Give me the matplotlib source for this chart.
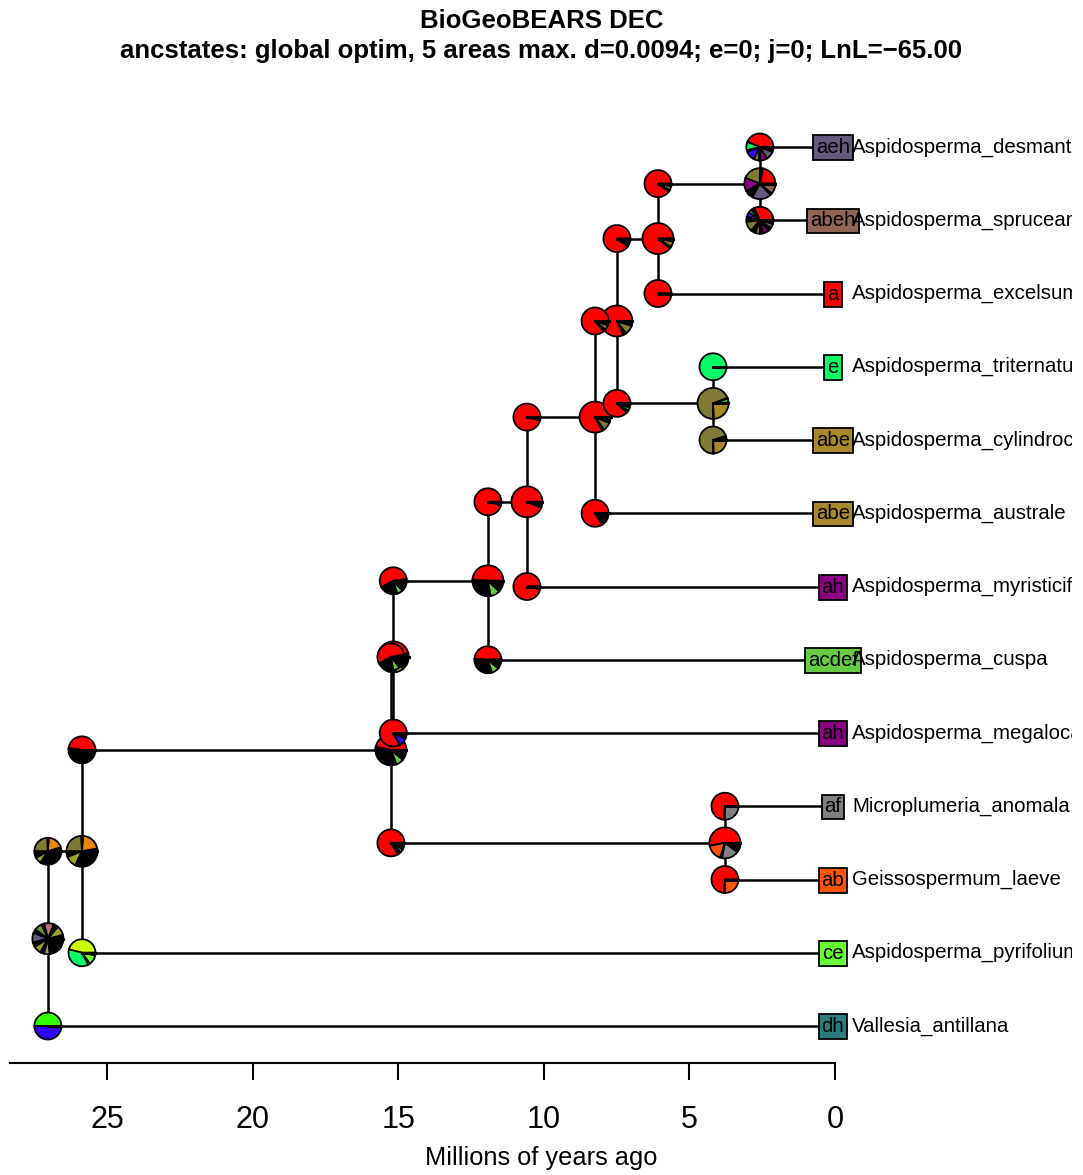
import matplotlib
matplotlib.use('Agg')
import matplotlib.pyplot as plt
from matplotlib.patches import Wedge
from matplotlib import transforms

plt.rcParams['font.family'] = ['Liberation Sans', 'DejaVu Sans']

# tips, top to bottom, with their observed ranges
tips = ['Aspidosperma_desmanthum', 'Aspidosperma_spruceanum', 'Aspidosperma_excelsum',
        'Aspidosperma_triternatum', 'Aspidosperma_cylindrocarpon', 'Aspidosperma_australe',
        'Aspidosperma_myristicifolium', 'Aspidosperma_cuspa', 'Aspidosperma_megalocarpon',
        'Microplumeria_anomala', 'Geissospermum_laeve', 'Aspidosperma_pyrifolium',
        'Vallesia_antillana']
tip_states = ['aeh', 'abeh', 'a', 'e', 'abe', 'abe', 'ah', 'acdef', 'ah', 'af', 'ab', 'ce', 'dh']

# internal nodes: age (Ma) and (upper child, lower child)
node_age = {'A': 27.03, 'B': 25.86, 'C': 15.25, 'D': 15.17, 'E': 3.78, 'F': 11.92,
            'G': 10.58, 'H': 8.24, 'I': 7.49, 'J': 6.08, 'K': 4.19, 'L': 2.58}
children = {'A': ('B', 'Vallesia_antillana'),
            'B': ('C', 'Aspidosperma_pyrifolium'),
            'C': ('D', 'E'),
            'D': ('F', 'Aspidosperma_megalocarpon'),
            'E': ('Microplumeria_anomala', 'Geissospermum_laeve'),
            'F': ('G', 'Aspidosperma_cuspa'),
            'G': ('H', 'Aspidosperma_myristicifolium'),
            'H': ('I', 'Aspidosperma_australe'),
            'I': ('J', 'K'),
            'J': ('L', 'Aspidosperma_excelsum'),
            'K': ('Aspidosperma_triternatum', 'Aspidosperma_cylindrocarpon'),
            'L': ('Aspidosperma_desmanthum', 'Aspidosperma_spruceanum')}

state_colors = {'a': '#FF0000', 'c': '#CCFF00', 'd': '#33FF00', 'e': '#00FF66', 'h': '#3300FF',
                'ab': '#FF5500', 'af': '#808080', 'ah': '#8B0083', 'ce': '#66FF33', 'dh': '#2B7C7C',
                'ad': '#E8870C', 'ae': '#807A35', 'abe': '#A8892A', 'aeh': '#665A7C',
                'abeh': '#8F6656', 'acdef': '#66CC44', 'cd': '#9BA52A', 'de': '#6C9A2E',
                'adh': '#C07070', 'bd': '#9A9A6A', 'ch': '#00CCCC', 'bf': '#D0A050',
                'other': '#000000'}

# state probabilities at nodes (counter-clockwise from 3 o'clock)
node_pies = {
    'A': [('other', .04), ('cd', .10), ('other', .05), ('adh', .10), ('other', .03), ('de', .08),
          ('other', .04), ('aeh', .10), ('other', .05), ('cd', .08), ('other', .04), ('bd', .06),
          ('other', .11), ('de', .03), ('other', .09)],
    'B': [('other', .03), ('ad', .21), ('other', .02), ('ae', .24), ('other', .06), ('cd', .12),
          ('other', .28), ('acdef', .02), ('other', .02)],
    'C': [('a', .47), ('ab', .02), ('other', .32), ('acdef', .08), ('other', .11)],
    'D': [('other', .04), ('a', .52), ('other', .22), ('acdef', .08), ('other', .14)],
    'E': [('a', .53), ('ab', .17), ('other', .02), ('af', .18), ('other', .04), ('bf', .02),
          ('other', .04)],
    'F': [('a', .49), ('other', .29), ('acdef', .10), ('other', .12)],
    'G': [('a', .94), ('other', .06)],
    'H': [('a', .83), ('other', .02), ('ae', .09), ('ab', .01), ('other', .05)],
    'I': [('a', .82), ('other', .03), ('ae', .10), ('other', .05)],
    'J': [('a', .89), ('other', .02), ('ae', .06), ('other', .03)],
    'K': [('other', .01), ('e', .04), ('other', .01), ('ae', .69), ('other', .01), ('abe', .24)],
    'L': [('a', .22), ('other', .03), ('ae', .19), ('ah', .14), ('other', .03), ('ad', .02),
          ('other', .04), ('aeh', .20), ('other', .02), ('abeh', .10), ('other', .01)],
}

# states just after each split: (node, 0) upper branch, (node, 1) lower branch
corner_pies = {
    ('A', 0): [('other', .05), ('ad', .19), ('other', .02), ('ae', .24), ('other', .08),
               ('cd', .08), ('other', .34)],
    ('A', 1): [('d', .50), ('h', .48), ('other', .02)],
    ('B', 0): [('a', .48), ('other', .50), ('acdef', .02)],
    ('B', 1): [('c', .46), ('e', .37), ('other', .02), ('ce', .12), ('other', .03)],
    ('C', 0): [('other', .03), ('a', .55), ('other', .20), ('acdef', .08), ('other', .14)],
    ('C', 1): [('a', .84), ('other', .04), ('ch', .04), ('other', .08)],
    ('D', 0): [('other', .02), ('a', .56), ('other', .22), ('acdef', .07), ('other', .13)],
    ('D', 1): [('a', .83), ('h', .10), ('other', .07)],
    ('E', 0): [('a', .74), ('other', .01), ('af', .25)],
    ('E', 1): [('a', .74), ('other', .01), ('ab', .25)],
    ('F', 0): [('a', .96), ('other', .04)],
    ('F', 1): [('other', .01), ('a', .48), ('other', .31), ('acdef', .09), ('other', .11)],
    ('G', 0): [('a', .96), ('other', .04)],
    ('G', 1): [('a', .97), ('other', .03)],
    ('H', 0): [('a', .86), ('other', .03), ('ae', .06), ('other', .05)],
    ('H', 1): [('a', .84), ('other', .06), ('ae', .03), ('other', .07)],
    ('I', 0): [('a', .90), ('other', .10)],
    ('I', 1): [('a', .88), ('other', .03), ('e', .04), ('other', .05)],
    ('J', 0): [('a', .90), ('other', .02), ('ae', .05), ('other', .03)],
    ('J', 1): [('a', .99), ('other', .01)],
    ('K', 0): [('e', 1.0)],
    ('K', 1): [('other', .01), ('e', .03), ('other', .01), ('ae', .70), ('other', .01), ('abe', .24)],
    ('L', 0): [('a', .44), ('e', .10), ('other', .02), ('h', .12), ('ae', .06), ('other', .02),
               ('ah', .08), ('aeh', .10), ('other', .06)],
    ('L', 1): [('a', .32), ('other', .04), ('e', .04), ('h', .06), ('other', .06), ('ae', .12),
               ('other', .06), ('abe', .05), ('other', .04), ('ah', .07), ('other', .04),
               ('aeh', .06), ('other', .04)],
}

W, H = 1083, 1175
fig = plt.figure(figsize=(W / 100, H / 100), dpi=100)
plot_w = 1072
ax = fig.add_axes([0, 0, plot_w / W, 1])
ax.axis('off')

# node positions
age = dict(node_age)
ypos = {}
for i, t in enumerate(tips):
    age[t] = 0.0
    ypos[t] = i


def place(n):
    if n not in ypos:
        c1, c2 = children[n]
        ypos[n] = (place(c1) + place(c2)) / 2
    return ypos[n]


place('A')

# branches
for n, (c1, c2) in children.items():
    ax.plot([age[n], age[n]], [ypos[c1], ypos[c2]], color='black', lw=1.8, zorder=1)
    for c in (c1, c2):
        ax.plot([age[n], age[c]], [ypos[c], ypos[c]], color='black', lw=1.8, zorder=1)


def draw_pie(x, y, probs, r_px, z):
    trans = fig.dpi_scale_trans + transforms.ScaledTranslation(x, y, ax.transData)
    r = r_px / fig.dpi
    start = 0.0
    for state, p in probs:
        ax.add_patch(Wedge((0, 0), r, start * 360, (start + p) * 360,
                           facecolor=state_colors[state], edgecolor='black', lw=1.3,
                           transform=trans, zorder=z))
        start += p
    ax.plot([0, r], [0, 0], color='black', lw=2.2, transform=trans, zorder=z + 0.5)


for n, probs in node_pies.items():
    draw_pie(age[n], ypos[n], probs, 15.5, 3)
for (n, k), probs in corner_pies.items():
    draw_pie(age[n], ypos[children[n][k]], probs, 13.5, 4)

# tip ranges and names
for t, s in zip(tips, tip_states):
    ax.text(0.07, ypos[t] + 0.01, s, ha='center', va='center', fontsize=14.7, zorder=6,
            bbox=dict(boxstyle='square,pad=0.14', fc=state_colors[s], ec='black', lw=1.3))
    ax.text(-0.58, ypos[t], t, ha='left', va='center', fontsize=14.7, zorder=6, clip_on=True)

px_per_myr = 29.12
x0_px = 835
tip_top_px, tip_gap_px = 147, 73.25
xlim = (x0_px / px_per_myr, -(plot_w - x0_px) / px_per_myr)
ax.set_xlim(xlim)
ax.set_ylim((H - tip_top_px) / tip_gap_px, -tip_top_px / tip_gap_px)

# time axis
axis_px = 1063
tax = fig.add_axes([0, (H - axis_px) / H, plot_w / W, 0.001])
tax.set_xlim(xlim)
tax.patch.set_visible(False)
for side in ('top', 'left', 'right'):
    tax.spines[side].set_visible(False)
tax.spines['bottom'].set_linewidth(1.5)
tax.spines['bottom'].set_bounds(0, (x0_px - 10) / px_per_myr)
tax.set_yticks([])
tax.set_xticks([0, 5, 10, 15, 20, 25])
tax.tick_params(axis='x', length=12, width=1.5, labelsize=22, pad=18)

fig.text(0.5, 1 - 1158 / H, 'Millions of years ago', ha='center', va='center', fontsize=18.3)
fig.text(0.5, 1 - 21 / H, 'BioGeoBEARS DEC', ha='center', va='center',
         fontsize=18.5, fontweight='bold')
fig.text(0.5, 1 - 51 / H,
         'ancstates: global optim, 5 areas max. d=0.0094; e=0; j=0; LnL=\u221265.00',
         ha='center', va='center', fontsize=18.5, fontweight='bold')

fig.savefig('out.png', dpi=100)
